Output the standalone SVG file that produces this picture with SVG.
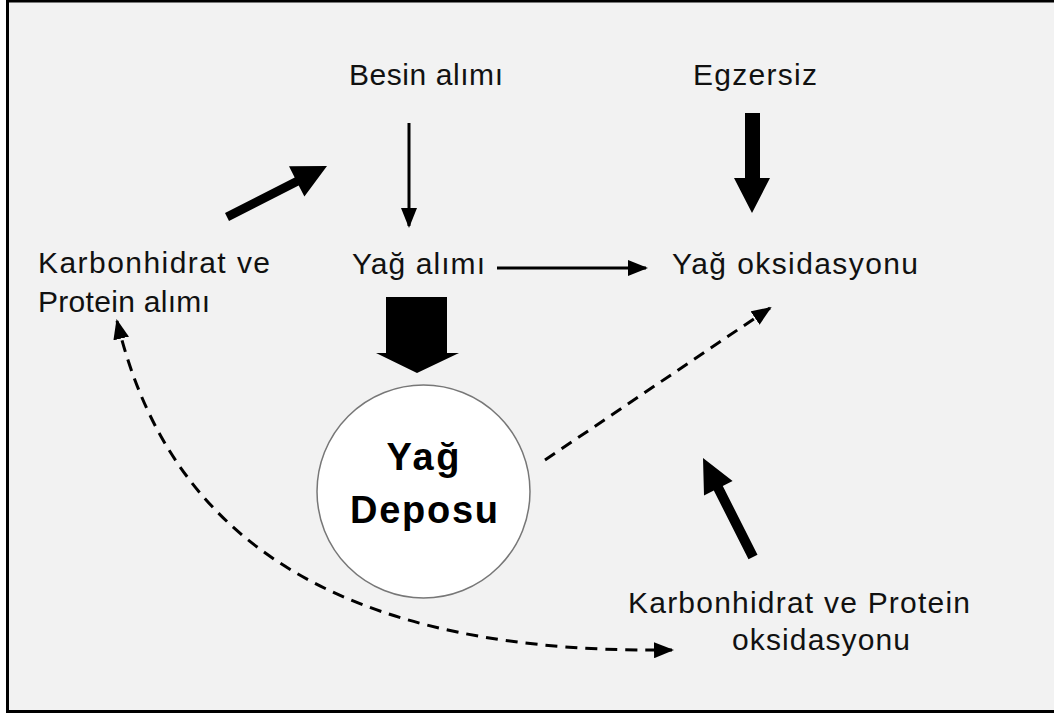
<svg xmlns="http://www.w3.org/2000/svg" width="1054" height="715" viewBox="0 0 1054 715">
<style>
.t{font-family:"Liberation Sans",Arial,sans-serif;font-size:30px;fill:#111;}
.b{font-family:"Liberation Sans",Arial,sans-serif;font-size:38px;font-weight:bold;fill:#000;text-anchor:middle;}
.thin{fill:none;stroke:#000;stroke-width:3;}
.dash{fill:none;stroke:#000;stroke-width:3;stroke-dasharray:12 8;}
.thick{fill:#000;stroke:none;}
</style>
<defs>
<marker id="arr" markerUnits="userSpaceOnUse" markerWidth="20" markerHeight="16" refX="18" refY="8" orient="auto-start-reverse" viewBox="0 0 20 16">
<path d="M0,0 L20,8 L0,16 z" fill="#000"/>
</marker>
</defs>
<rect x="0" y="0" width="1054" height="715" fill="#ffffff"/>
<rect x="7.5" y="1" width="1060" height="710.5" fill="#f2f2f2" stroke="#000" stroke-width="3"/>

<g id="node-besin"><text class="t" x="349" y="85" textLength="154" lengthAdjust="spacing">Besin alımı</text></g>
<g id="node-egzersiz"><text class="t" x="693" y="85" textLength="124" lengthAdjust="spacing">Egzersiz</text></g>
<g id="node-kp-alim">
<text class="t" x="38" y="273" textLength="232" lengthAdjust="spacing">Karbonhidrat ve</text>
<text class="t" x="38" y="312" textLength="172" lengthAdjust="spacing">Protein alımı</text>
</g>
<g id="node-yag-alim"><text class="t" x="352" y="274" textLength="133" lengthAdjust="spacing">Yağ alımı</text></g>
<g id="node-yag-oks"><text class="t" x="672" y="274" textLength="246" lengthAdjust="spacing">Yağ oksidasyonu</text></g>
<g id="node-kp-oks">
<text class="t" x="628" y="613" textLength="342" lengthAdjust="spacing">Karbonhidrat ve Protein</text>
<text class="t" x="732" y="650" textLength="178" lengthAdjust="spacing">oksidasyonu</text>
</g>
<g id="node-depo">
<circle cx="423.5" cy="491.5" r="106.5" fill="#fff" stroke="#777" stroke-width="1.5"/>
<text class="b" x="423" y="470" textLength="73" lengthAdjust="spacing">Yağ</text>
<text class="b" x="424" y="523" textLength="148" lengthAdjust="spacing">Deposu</text>
</g>

<g id="connectors">
<polygon class="thick" points="225,213 294.7,177.4 289,166.3 327,166 304.4,196.5 298.7,185.4 229,221"/>
<path class="thin" d="M409,123 V226" stroke-width="2.5" marker-end="url(#arr)"/>
<path class="thin" d="M497,268 H646" marker-end="url(#arr)"/>
<polygon class="thick" points="745,113 760,113 760,178 770,178 752,213 734,178 745,178"/>
<polygon class="thick" points="386,297 447,297 447,353 459,353 417,373 376,353 386,353"/>
<path class="dash" d="M545,460 L770,308" marker-end="url(#arr)"/>
<polygon class="thick" points="748.5,559.2 713.8,490.5 704,495.5 703,458 732.6,481.1 722.8,486 757.5,554.8"/>
<path class="dash" d="M117,321 C160,500 290,655 672,650" marker-start="url(#arr)" marker-end="url(#arr)"/>
</g>
</svg>
